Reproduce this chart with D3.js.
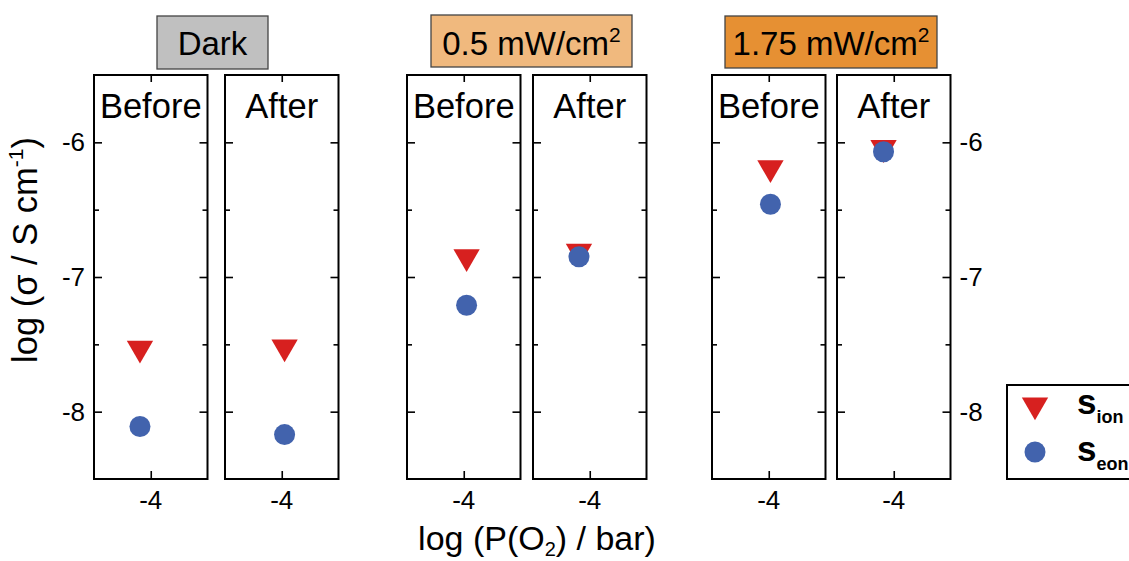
<!DOCTYPE html>
<html><head><meta charset="utf-8">
<script src="https://cdn.jsdelivr.net/npm/d3@7"></script>
<style>body{margin:0;background:#fff}svg{display:block;font-family:"Liberation Sans",Arial,sans-serif}</style>
</head><body><svg id="c" width="1129" height="561"></svg>
<script>
// ---- data ----
const conditions = ["Dark", "0.5 mW/cm", "1.75 mW/cm"];
const conditionSup = ["", "2", "2"];
const stages = ["Before", "After", "Before", "After", "Before", "After"];
const xValues = [-4.19, -3.95, -3.95, -4.19, -3.97, -4.18];
const ionValues = [-7.53, -7.52, -6.85, -6.81, -6.19, -6.04];
const eonValues = [-8.11, -8.17, -7.21, -6.85, -6.46, -6.07];
const yMajorTicks = [-8, -7, -6];
const yMinorTicks = [-7.5, -6.5];
const xTicks = [-4];
const legendLabels = ["ion", "eon"];

// ---- layout ----
const svg = d3.select("#c");
const panelLefts = [94, 225, 407, 533, 712, 837];
const panelW = 113.5;
const plotTop = 75, plotBottom = 479;
const y = d3.scaleLinear().domain([-8.5, -5.5]).range([plotBottom, plotTop]);
const boxes = [[157, 16, 111, 53, "#c0c0c0"], [431, 15, 201, 52, "#f0b97e"], [725, 16, 212, 52, "#e69033"]];
const red = "#d7201f", blue = "#4263ad";
const tri = d3.symbol().type(d3.symbolTriangle).size(300);

// title boxes
boxes.forEach((b, i) => {
  svg.append("rect").attr("x", b[0]).attr("y", b[1]).attr("width", b[2]).attr("height", b[3])
    .attr("fill", b[4]).attr("stroke", "#444").attr("stroke-width", 1.3);
  const t = svg.append("text").attr("x", b[0] + b[2] / 2).attr("y", 55).attr("text-anchor", "middle")
    .attr("font-size", 33).text(conditions[i]);
  if (conditionSup[i]) t.append("tspan").attr("font-size", 21).attr("dy", -13).text(conditionSup[i]);
});

stages.forEach((s, i) => {
  const L = panelLefts[i], R = L + panelW;
  const x = d3.scaleLinear().domain([-5, -3]).range([L, R]);
  const g = svg.append("g");
  const mk = (axis, tx, ty) => {
    const a = g.append("g").attr("transform", `translate(${tx},${ty})`).call(axis);
    a.select(".domain").remove();
    a.selectAll("line").attr("stroke", "#000").attr("stroke-width", 1.6);
    a.selectAll("text").remove();
  };
  mk(d3.axisRight(y).tickValues(yMajorTicks).tickSize(8), L, 0);
  mk(d3.axisRight(y).tickValues(yMinorTicks).tickSize(5), L, 0);
  mk(d3.axisLeft(y).tickValues(yMajorTicks).tickSize(8), R, 0);
  mk(d3.axisLeft(y).tickValues(yMinorTicks).tickSize(5), R, 0);
  mk(d3.axisTop(x).tickValues(xTicks).tickSize(8), 0, plotBottom);
  mk(d3.axisBottom(x).tickValues(xTicks).tickSize(7), 0, plotTop);
  g.append("rect").attr("x", L).attr("y", plotTop).attr("width", panelW).attr("height", plotBottom - plotTop)
    .attr("fill", "none").attr("stroke", "#000").attr("stroke-width", 2);
  g.append("text").attr("x", (L + R) / 2).attr("y", 118).attr("text-anchor", "middle")
    .attr("font-size", 34.5).text(s);
  xTicks.forEach(t => g.append("text").attr("x", x(t)).attr("y", 509).attr("text-anchor", "middle")
    .attr("font-size", 26).text(t));
  g.append("path").attr("d", tri).attr("fill", red)
    .attr("transform", `translate(${x(xValues[i])},${y(ionValues[i])}) rotate(180)`);
  g.append("circle").attr("cx", x(xValues[i])).attr("cy", y(eonValues[i])).attr("r", 10.5).attr("fill", blue);
  if (i === 0) yMajorTicks.forEach(t => g.append("text").attr("x", L - 9).attr("y", y(t) + 9)
    .attr("text-anchor", "end").attr("font-size", 26).text(t));
  if (i === stages.length - 1) yMajorTicks.forEach(t => g.append("text").attr("x", R + 9).attr("y", y(t) + 9)
    .attr("text-anchor", "start").attr("font-size", 26).text(t));
});

// axis titles
const yl = svg.append("text").attr("transform", "translate(37,250) rotate(-90)").attr("text-anchor", "middle")
  .attr("font-size", 34.5).text("log (σ / S cm");
yl.append("tspan").attr("font-size", 21).attr("dy", -14).text("-1");
yl.append("tspan").attr("dy", 14).text(")");

const xl = svg.append("text").attr("x", 537).attr("y", 550).attr("text-anchor", "middle").attr("font-size", 34)
  .text("log (P(O");
xl.append("tspan").attr("font-size", 20).attr("dy", 6).text("2");
xl.append("tspan").attr("dy", -6).text(") / bar)");

// legend
svg.append("rect").attr("x", 1007).attr("y", 385).attr("width", 140).attr("height", 94)
  .attr("fill", "#fff").attr("stroke", "#000").attr("stroke-width", 2);
[red, blue].forEach((c, i) => {
  const cy = i === 0 ? 405 : 452;
  if (i === 0) svg.append("path").attr("d", tri).attr("fill", c).attr("transform", `translate(1035,${cy}) rotate(180)`);
  else svg.append("circle").attr("cx", 1035).attr("cy", cy).attr("r", 10.5).attr("fill", c);
  const t = svg.append("text").attr("x", 1077).attr("y", cy + 9).attr("font-size", 35).attr("font-weight", "bold").text("s");
  t.append("tspan").attr("font-size", 18).attr("dy", 9).text(legendLabels[i]);
});
</script></body></html>
